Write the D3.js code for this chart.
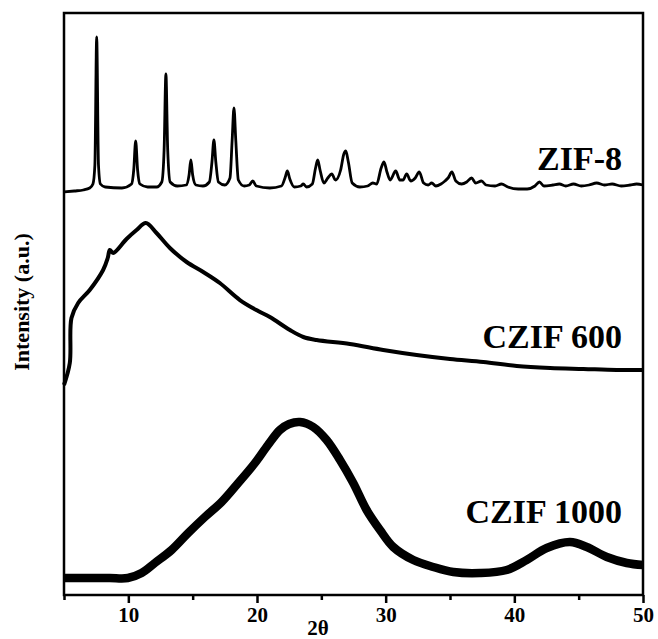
<!DOCTYPE html>
<html><head><meta charset="utf-8">
<script src="https://cdn.jsdelivr.net/npm/d3@7"></script>
<style>
body{margin:0;background:#fff}
text{font-family:"Liberation Serif","Times New Roman",serif;font-weight:bold;fill:#000}
</style>
</head><body>
<svg id="chart" width="658" height="639"></svg>
<script>
// 2θ (deg), intensity (a.u., curves already offset)
const zif8 = [
[5.0,403],[5.8,404],[6.5,405],[7.0,407],[7.25,411],[7.40,430],[7.54,558],[7.68,430],[7.83,411],
[8.2,408],[9.5,407],[10.25,411],[10.42,425],[10.57,454],[10.72,425],[10.9,411],
[11.5,408],[12.2,408],[12.6,413],[12.78,445],[12.92,521],[13.06,445],[13.25,413],
[13.8,409],[14.5,410],[14.72,420],[14.86,435],[15.0,420],[15.25,410],
[15.8,409],[16.3,413],[16.5,433],[16.65,455],[16.8,433],[17.0,413],
[17.5,410],[17.9,417],[18.07,455],[18.21,487],[18.35,455],[18.55,415],
[19.0,409],[19.4,410],[19.67,414],[19.95,409],[21.0,407],[21.9,409],[22.2,418],[22.36,424],[22.55,416],
[22.9,408],[23.4,409],[23.6,411],[23.85,408],[24.3,411],[24.55,427],[24.72,435],[24.9,425],
[25.2,412],[25.5,417],[25.81,421],[26.1,415],[26.5,425],[26.75,441],[26.9,444],[27.1,433],[27.4,412],
[28.0,408],[28.6,409],[29.0,412],[29.3,411],[29.65,427],[29.87,433],[30.1,423],[30.35,415],
[30.78,424],[31.1,415],[31.35,415],[31.63,421],[31.95,414],[32.3,417],[32.61,423],[32.95,412],
[33.3,410],[33.58,412],[33.9,409],[34.3,411],[34.61,414],[34.85,417],[35.15,423],[35.45,414],
[35.9,411],[36.3,413],[36.67,417],[37.0,412],[37.45,414],[37.8,410],[38.5,409],[39.0,411],
[39.5,408],[40.3,406],[41.0,406],[41.6,409],[41.95,413],[42.3,409],[43.0,410],[43.5,411],
[44.0,409],[44.6,411],[45.2,409],[45.8,410],[46.4,412],[47.0,410],[47.6,411],[48.3,409],
[49.0,410],[49.5,411],[50.0,410]
];
const czif600 = [
[5.0,210],[5.45,232],[5.58,277],[6.1,292],[7.0,305],[8.04,325],[8.4,337],[8.56,345],[8.82,342],
[9.86,356],[10.64,365],[11.36,372],[12.19,362],[13.23,347],[14.53,333],[15.82,323],[17.11,312],
[18.67,295],[20.09,284],[21.0,278],[22.56,265],[23.6,258],[24.63,255],[27.22,251],[29.81,245],
[32.41,240],[35.0,236],[37.59,233],[40.19,229],[42.78,227],[45.37,226],[47.96,225],[50.0,225]
];
const czif1000 = [
[5.0,17],[7.0,17],[8.56,17],[9.96,17],[11.03,22],[12.06,32],[13.36,45],[14.65,62],[15.95,78],
[17.25,93],[18.54,112],[19.84,132],[20.85,150],[21.78,165],[22.5,171],[23.34,173],[24.37,168],
[25.41,155],[26.45,135],[27.48,112],[28.52,85],[29.56,65],[30.59,48],[32.15,35],[33.7,28],
[35.26,23],[37.33,22],[39.41,25],[40.96,35],[42.52,47],[44.33,53],[45.63,48],[47.19,38],
[48.74,32],[50.0,30]
];
const seriesNames = ["ZIF-8","CZIF 600","CZIF 1000"];
const xTicksMajor = [10,20,30,40,50];
const xTicksMinor = [5,15,25,35,45];
const xTitle = "2θ";
const yTitle = "Intensity (a.u.)";

const svg = d3.select("#chart");
const L=64, R=643, T=13, B=595;
const x = d3.scaleLinear().domain([5,50]).range([L,R]);
const y = d3.scaleLinear().domain([0,582]).range([B,T]);

const lineSharp = d3.line().x(d=>x(d[0])).y(d=>y(d[1])).curve(d3.curveMonotoneX);
const lineSmooth = d3.line().x(d=>x(d[0])).y(d=>y(d[1])).curve(d3.curveCatmullRom.alpha(0.5));

const series = [
  {name:seriesNames[0], data:zif8, w:2.8, ly:169.5, ln:lineSharp},
  {name:seriesNames[1], data:czif600, w:4, ly:347.5, ln:lineSmooth},
  {name:seriesNames[2], data:czif1000, w:8.5, ly:523, ln:lineSmooth}
];
const g = svg.append("g");
series.forEach(s=>{
  g.append("path").attr("d",s.ln(s.data)).attr("fill","none").attr("stroke","#000")
   .attr("stroke-width",s.w).attr("stroke-linejoin","round").attr("stroke-linecap","butt");
  svg.append("text").attr("x",622).attr("y",s.ly).attr("text-anchor","end")
   .style("font-size","34px").text(s.name);
});

// frame
svg.append("rect").attr("x",L).attr("y",T).attr("width",R-L).attr("height",B-T)
  .attr("fill","none").attr("stroke","#000").attr("stroke-width",2.5);

// x axis
const ax = svg.append("g").attr("transform",`translate(0,${B})`)
  .call(d3.axisBottom(x).tickValues(xTicksMajor).tickSize(8).tickPadding(4).tickFormat(d3.format("d")));
ax.select(".domain").remove();
ax.selectAll(".tick line").attr("stroke","#000").attr("stroke-width",2.5);
ax.selectAll(".tick text").style("font-size","21px").style("font-family",'"Liberation Serif","Times New Roman",serif').style("font-weight","bold").attr("fill","#000");
const axm = svg.append("g").attr("transform",`translate(0,${B})`)
  .call(d3.axisBottom(x).tickValues(xTicksMinor).tickSize(5).tickFormat(""));
axm.select(".domain").remove();
axm.selectAll(".tick line").attr("stroke","#000").attr("stroke-width",2.5);

svg.append("text").attr("x",318).attr("y",635).attr("text-anchor","middle")
  .style("font-size","21px").text(xTitle);
svg.append("text").attr("transform","translate(29,302) rotate(-90)").attr("text-anchor","middle")
  .style("font-size","22px").text(yTitle);
</script>
</body></html>
